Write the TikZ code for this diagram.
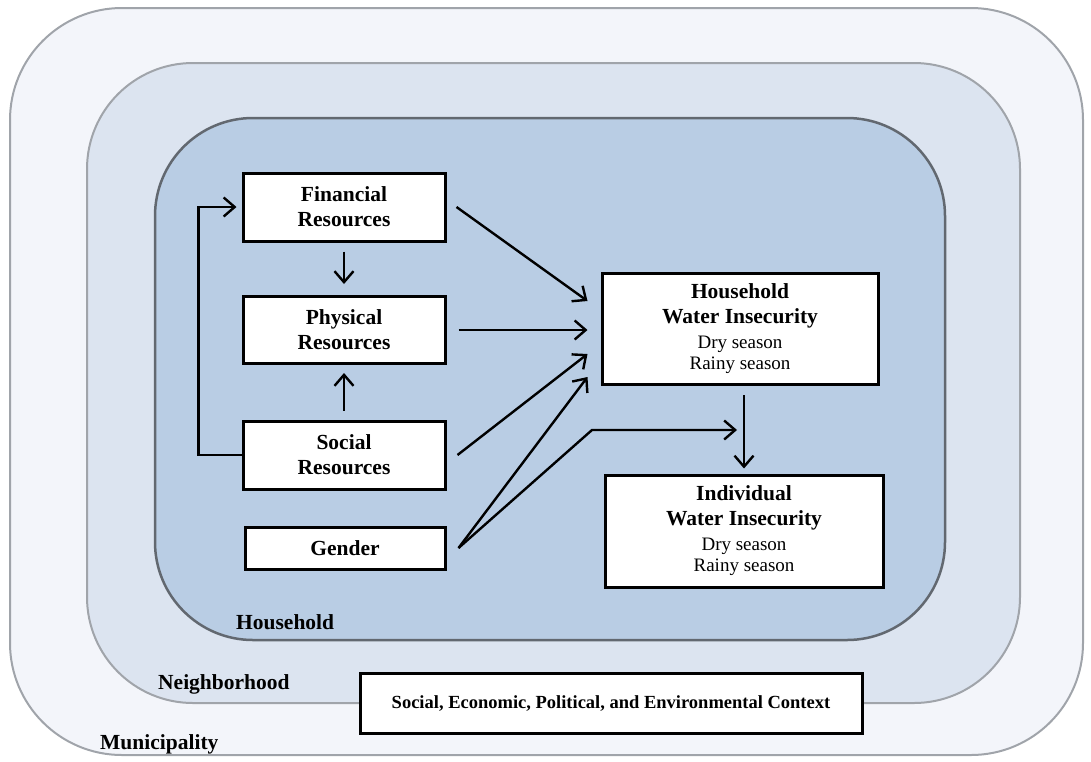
\documentclass[tikz,border=0pt]{standalone}
\usepackage{fontspec}
\setmainfont{Liberation Serif}
\usetikzlibrary{arrows.meta,calc}

\definecolor{municol}{RGB}{243,245,250}
\definecolor{neighcol}{RGB}{220,228,240}
\definecolor{housecol}{RGB}{185,205,228}
\definecolor{rimlight}{RGB}{160,164,170}
\definecolor{rimdark}{RGB}{98,104,112}

\begin{document}
\begin{tikzpicture}[x=1pt, y=-1pt,
  box/.style={draw=black, fill=white, line width=3pt, align=center, inner sep=0pt,
    font=\fontsize{21.5}{25}\selectfont\bfseries},
  arr/.style={draw=black, line width=2.4pt, -{Straight Barb[length=11pt,width=19pt]}},
  levellabel/.style={anchor=base west, inner sep=0pt, font=\fontsize{21.5}{25}\selectfont\bfseries}]
  \useasboundingbox (0,0) rectangle (1091,761);

  % Nested levels: municipality, neighborhood, household
  \draw[fill=municol, draw=rimlight, line width=2pt, rounded corners=112pt] (10,8) rectangle (1083,755);
  \draw[fill=neighcol, draw=rimlight, line width=2pt, rounded corners=106pt] (87,63) rectangle (1020,703);
  \draw[fill=housecol, draw=rimdark, line width=2.5pt, rounded corners=98pt] (155,118) rectangle (945,640);

  \node[levellabel] (lhouse) at (236,629) {Household};
  \node[levellabel] (lneigh) at (158,689) {Neighborhood};
  \node[levellabel] (lmuni) at (100,749) {Municipality};

  % Resources and gender
  \node[box, minimum width=202pt, minimum height=68pt] (fin) at (344,207) {Financial\\Resources};
  \node[box, minimum width=202pt, minimum height=67pt] (phy) at (344,330) {Physical\\Resources};
  \node[box, minimum width=202pt, minimum height=68pt] (soc) at (344,455) {Social\\Resources};
  \node[box, minimum width=200pt, minimum height=42pt] (gen) at (345,548) {Gender};

  % Outcomes
  \node[box, minimum width=276pt, minimum height=111pt] (hwi) at (740,329)
    {Household\\Water Insecurity\\[0pt]\mdseries\fontsize{19}{22}\selectfont Dry season\\[-4pt]\mdseries\fontsize{19}{22}\selectfont Rainy season};
  \node[box, minimum width=278pt, minimum height=112pt] (iwi) at (744,531)
    {Individual\\Water Insecurity\\[0pt]\mdseries\fontsize{19}{22}\selectfont Dry season\\[-4pt]\mdseries\fontsize{19}{22}\selectfont Rainy season};

  % Context
  \node[box, minimum width=502pt, minimum height=60pt, font=\fontsize{18.5}{22}\selectfont\bfseries] (ctx) at (611,703)
    {Social, Economic, Political, and Environmental Context};

  % Paths between resources
  \draw[arr, shorten >=5pt] (soc.west) -- ++(-43,0) |- (fin.west);
  \draw[arr, shorten <=9pt, shorten >=11pt] (fin.south) -- (phy.north);
  \draw[arr, shorten <=9pt, shorten >=8pt] (soc.north) -- (phy.south);

  % Paths to household water insecurity
  \draw[arr] ([xshift=10pt]fin.east) -- ($(hwi.west)+(-13,-28)$);
  \draw[arr] ([xshift=12pt]phy.east) -- ([xshift=-13pt]hwi.west |- phy.east);
  \draw[arr] ([xshift=11pt]soc.east) -- ($(hwi.west)+(-13,25)$);
  \draw[arr] ([xshift=12pt]gen.east) -- ($(hwi.west)+(-13,48)$);

  % Gender moderates the household-to-individual path
  \coordinate (bend) at (592,430);
  \coordinate (mod) at (737,430);
  \draw[arr] ([xshift=12pt]gen.east) -- (bend) -- (mod);
  \draw[arr, shorten <=9pt, shorten >=5pt] (iwi.north |- hwi.south) -- (iwi.north);
\end{tikzpicture}
\end{document}
